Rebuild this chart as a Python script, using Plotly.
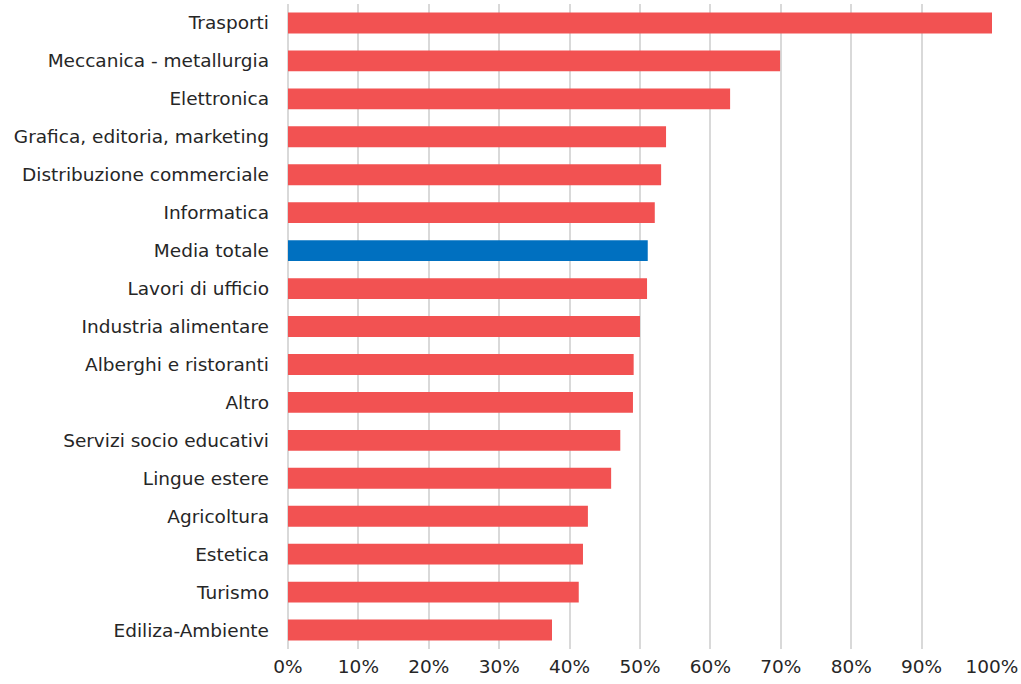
import plotly.graph_objects as go

categories = ["Trasporti", "Meccanica - metallurgia", "Elettronica",
              "Grafica, editoria, marketing", "Distribuzione commerciale",
              "Informatica", "Media totale", "Lavori di ufficio",
              "Industria alimentare", "Alberghi e ristoranti", "Altro",
              "Servizi socio educativi", "Lingue estere", "Agricoltura",
              "Estetica", "Turismo", "Ediliza-Ambiente"]
values = [1.00, 0.699, 0.628, 0.537, 0.530, 0.521, 0.511, 0.510,
          0.500, 0.491, 0.490, 0.472, 0.459, 0.426, 0.419, 0.413, 0.375]
tick_vals = [0, 0.1, 0.2, 0.3, 0.4, 0.5, 0.6, 0.7, 0.8, 0.9, 1.0]
tick_text = ["0%", "10%", "20%", "30%", "40%", "50%", "60%", "70%", "80%", "90%", "100%"]

RED = "#F25252"
BLUE = "#0070C0"
colors = [BLUE if c == "Media totale" else RED for c in categories]

fig = go.Figure(go.Bar(
    x=values, y=categories, orientation="h",
    marker=dict(color=colors, line=dict(width=0)),
    width=0.55,
    hoverinfo="skip",
))

FS = 18.5
fig.update_layout(
    width=1021, height=684,
    margin=dict(l=288, r=29, t=4, b=35),
    paper_bgcolor="white", plot_bgcolor="white",
    font=dict(family="DejaVu Sans, Verdana, sans-serif", size=FS, color="#262626"),
    showlegend=False,
)
fig.update_xaxes(
    range=[0, 1.0], tickvals=tick_vals, ticktext=tick_text,
    showgrid=True, gridcolor="#D9D9D9", gridwidth=2,
    zeroline=True, zerolinecolor="#D9D9D9", zerolinewidth=2,
    showline=False, ticks="", ticklabelstandoff=4,
    tickfont=dict(size=FS, color="#262626"),
)
fig.update_yaxes(
    categoryorder="array", categoryarray=categories[::-1],
    showgrid=False, ticks="", ticklabelstandoff=18,
    tickfont=dict(size=FS, color="#262626"),
)

fig.write_html("out.html", config={"displayModeBar": False},
               post_script="document.body.style.margin='0';document.body.style.overflow='hidden';")
